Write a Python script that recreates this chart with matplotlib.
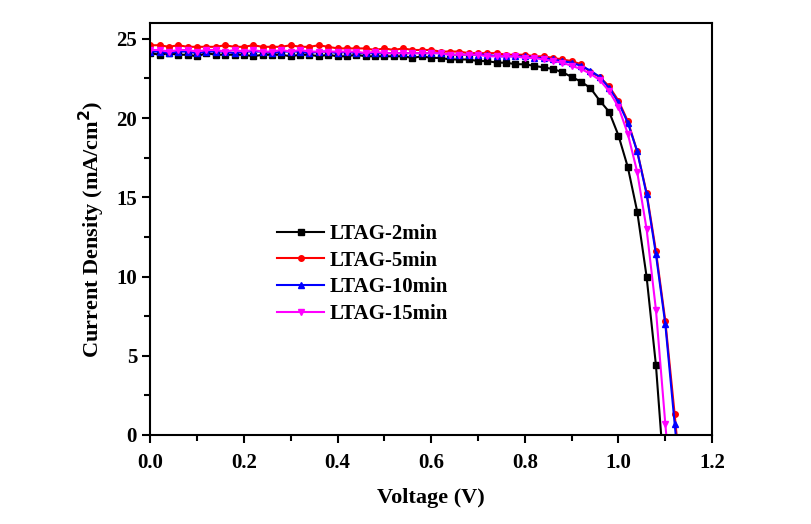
import matplotlib.pyplot as plt
from matplotlib.ticker import MultipleLocator

plt.rcParams['font.family'] = ['Liberation Serif', 'DejaVu Serif']
plt.rcParams['font.weight'] = 'bold'
plt.rcParams['mathtext.default'] = 'bf'

# sweep voltage (V)
volt = [0.00, 0.02, 0.04, 0.06, 0.08, 0.10, 0.12, 0.14, 0.16, 0.18,
        0.20, 0.22, 0.24, 0.26, 0.28, 0.30, 0.32, 0.34, 0.36, 0.38,
        0.40, 0.42, 0.44, 0.46, 0.48, 0.50, 0.52, 0.54, 0.56, 0.58,
        0.60, 0.62, 0.64, 0.66, 0.68, 0.70, 0.72, 0.74, 0.76, 0.78,
        0.80, 0.82, 0.84, 0.86, 0.88, 0.90, 0.92, 0.94, 0.96, 0.98,
        1.00, 1.02, 1.04, 1.06, 1.08, 1.10, 1.12, 1.14]

# current density (mA/cm2)
j_2min = [24.1, 24.0, 24.1, 24.0, 24.0, 23.9, 24.1, 24.0, 24.0, 24.0,
          24.0, 23.9, 24.0, 24.0, 24.0, 23.9, 24.0, 24.0, 23.9, 24.0,
          23.9, 23.9, 24.0, 23.9, 23.9, 23.9, 23.9, 23.9, 23.8, 23.9,
          23.8, 23.8, 23.7, 23.7, 23.7, 23.6, 23.6, 23.5, 23.5, 23.4,
          23.4, 23.3, 23.2, 23.1, 22.9, 22.6, 22.3, 21.9, 21.1, 20.4,
          18.9, 16.9, 14.1, 10.0, 4.4, -3.5]
j_5min = [24.6, 24.6, 24.5, 24.6, 24.5, 24.5, 24.5, 24.5, 24.6, 24.5,
          24.5, 24.6, 24.5, 24.5, 24.5, 24.6, 24.5, 24.5, 24.6, 24.5,
          24.4, 24.4, 24.4, 24.4, 24.3, 24.4, 24.3, 24.4, 24.3, 24.3,
          24.3, 24.2, 24.2, 24.2, 24.1, 24.1, 24.1, 24.1, 24.0, 24.0,
          24.0, 23.9, 23.9, 23.8, 23.7, 23.6, 23.4, 22.9, 22.6, 22.0,
          21.1, 19.8, 17.9, 15.3, 11.6, 7.2, 1.3, -5.0]
j_10min = [24.2, 24.2, 24.1, 24.2, 24.2, 24.1, 24.2, 24.2, 24.2, 24.1,
           24.2, 24.2, 24.2, 24.1, 24.2, 24.2, 24.2, 24.1, 24.2, 24.2,
           24.1, 24.2, 24.1, 24.1, 24.1, 24.1, 24.1, 24.1, 24.1, 24.1,
           24.1, 24.1, 24.0, 24.0, 24.0, 24.0, 24.0, 23.9, 23.9, 23.9,
           23.9, 23.8, 23.8, 23.7, 23.6, 23.5, 23.3, 23.0, 22.6, 21.9,
           21.0, 19.7, 17.9, 15.2, 11.4, 7.0, 0.7, -5.5]
j_15min = [24.3, 24.3, 24.2, 24.3, 24.3, 24.2, 24.3, 24.3, 24.2, 24.3,
           24.2, 24.3, 24.2, 24.2, 24.3, 24.2, 24.3, 24.2, 24.2, 24.2,
           24.2, 24.2, 24.2, 24.1, 24.2, 24.1, 24.1, 24.1, 24.1, 24.1,
           24.1, 24.1, 24.0, 24.0, 24.0, 24.0, 23.9, 23.9, 23.9, 23.9,
           23.8, 23.8, 23.7, 23.6, 23.5, 23.3, 23.1, 22.8, 22.4, 21.7,
           20.7, 19.0, 16.6, 13.0, 7.9, 0.7, -6.0]

labels = ['LTAG-2min', 'LTAG-5min', 'LTAG-10min', 'LTAG-15min']
series = [j_2min, j_5min, j_10min, j_15min]
colors = ['black', 'red', 'blue', 'magenta']
markers = ['s', 'o', '^', 'v']

fig = plt.figure(figsize=(8.12, 5.24), dpi=100)
ax = fig.add_axes([0.185, 0.17, 0.692, 0.786])

for lab, j, c, m in zip(labels, series, colors, markers):
    ax.plot(volt[:len(j)], j, color=c, marker=m, markersize=4, lw=1.5, label=lab)

ax.set_xlim(0, 1.2)
ax.set_ylim(0, 26)
ax.xaxis.set_major_locator(MultipleLocator(0.2))
ax.xaxis.set_minor_locator(MultipleLocator(0.1))
ax.yaxis.set_major_locator(MultipleLocator(5))
ax.yaxis.set_minor_locator(MultipleLocator(2.5))
ax.tick_params(which='major', direction='out', length=6, width=1.5, labelsize=15)
ax.tick_params(axis='x', which='major', pad=7)
ax.tick_params(which='minor', direction='out', length=4, width=1.5)
for s in ax.spines.values():
    s.set_linewidth(1.5)
ax.xaxis.set_major_formatter(plt.FormatStrFormatter('%.1f'))

ax.set_xlabel('Voltage (V)', fontsize=16, fontweight='bold', labelpad=11)
ax.set_ylabel('Current Density (mA/cm$^2$)', fontsize=16, fontweight='bold', labelpad=7)

ax.legend(loc='upper left', bbox_to_anchor=(0.193, 0.558), frameon=False,
          fontsize=15, handlelength=2.25, handletextpad=0.25, labelspacing=0.32)

fig.savefig('out.png', dpi=100)
